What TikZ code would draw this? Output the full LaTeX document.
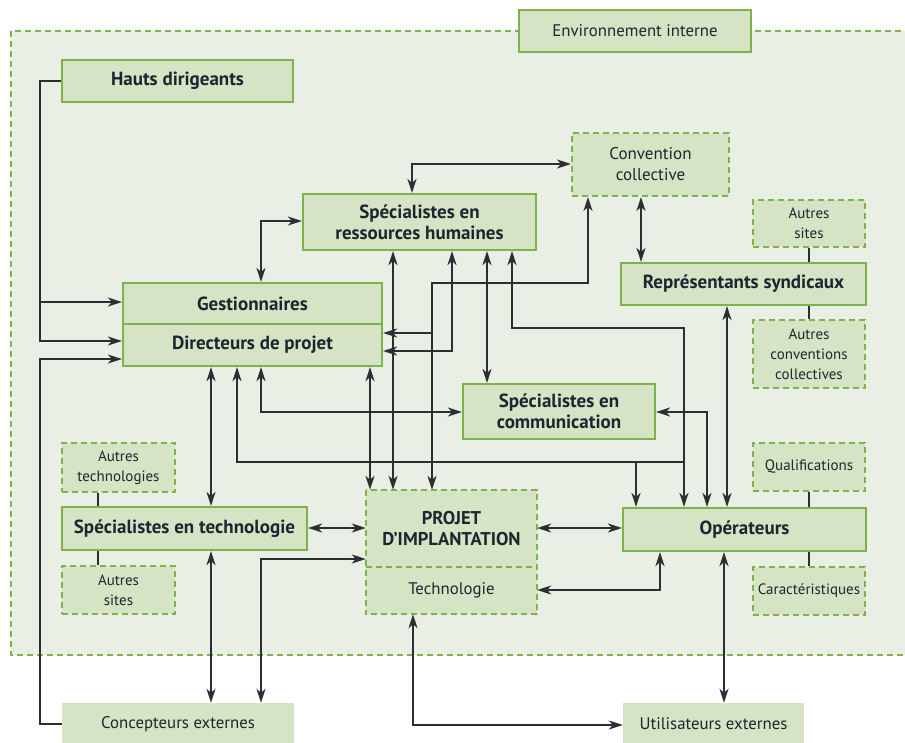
\documentclass[tikz,border=0pt]{standalone}
\usepackage{fontspec}
\setmainfont{PT Sans}
\usetikzlibrary{arrows.meta}
\definecolor{envfill}{HTML}{E9EFE5}
\definecolor{boxfill}{HTML}{D7E3C5}
\definecolor{boxline}{HTML}{7EB24A}
\definecolor{txt}{HTML}{1E2530}
\definecolor{conncol}{HTML}{2B2E33}
\tikzset{
  solidbox/.style={draw=boxline, line width=2.2pt, fill=boxfill, inner sep=0pt, text=txt, align=center, font=\fontsize{19}{21}\selectfont\bfseries},
  dashbox/.style={draw=boxline, line width=2pt, dash pattern=on 6pt off 4pt, fill=boxfill, inner sep=0pt, text=txt, align=center, font=\fontsize{15}{20}\selectfont},
  plainbox/.style={fill=boxfill, inner sep=0pt, text=txt, align=center, font=\fontsize{16.8}{21}\selectfont},
  conn/.style={draw=conncol, line width=1.8pt},
  tipboth/.style={conn, {Stealth[length=14pt,width=9pt,inset=4pt]}-{Stealth[length=14pt,width=9pt,inset=4pt]}},
  tipend/.style={conn, -{Stealth[length=14pt,width=9pt,inset=4pt]}},
  tipstart/.style={conn, {Stealth[length=14pt,width=9pt,inset=4pt]}-},
  tie/.style={conn}
}
\newcommand{\bx}[6]{\node[#1, minimum width=#4-#2, minimum height=#5-#3] (#6) at ({(#2+#4)/2},{(#3+#5)/2})}
\begin{document}
\begin{tikzpicture}[x=1pt,y=-1pt]
\useasboundingbox (0,0) rectangle (905,742);
% environment
\fill[envfill] (11,31) rectangle (907,655);
\draw[boxline, line width=2pt, dash pattern=on 6pt off 4pt] (11,31) rectangle (907,655);
\bx{solidbox,font=\fontsize{16.8}{21}\selectfont}{519}{10}{751}{52}{env} {Environnement interne};
\bx{plainbox}{62}{703}{294}{745}{conc} {Concepteurs externes};
\bx{plainbox}{623}{703}{804}{745}{util} {Utilisateurs externes};
% boxes
\bx{solidbox}{62}{60}{293}{102}{hd} {Hauts dirigeants};
\bx{solidbox}{303}{194}{536}{250}{srh} {Spécialistes en\\ressources humaines};
\bx{solidbox}{123}{283}{382}{324}{gest} {Gestionnaires};
\bx{solidbox}{123}{324}{382}{366}{dir} {Directeurs de projet};
\bx{dashbox,font=\fontsize{17}{21}\selectfont}{572}{133}{729}{196}{conv} {Convention\\collective};
\bx{dashbox}{753}{200}{865}{247}{asites} {Autres\\sites};
\bx{solidbox}{621}{263}{866}{305}{rep} {Représentants syndicaux};
\bx{dashbox}{753}{320}{865}{388}{aconv} {Autres\\conventions\\collectives};
\bx{solidbox}{463}{384}{655}{439}{comm} {Spécialistes en\\communication};
\bx{dashbox}{753}{443}{865}{491}{qual} {Qualifications};
\bx{dashbox}{62}{443}{175}{492}{atech} {Autres\\technologies};
\bx{solidbox}{62}{507}{307}{550}{stech} {Spécialistes en technologie};
\bx{dashbox}{62}{566}{175}{614}{asites2} {Autres\\sites};
\bx{solidbox}{623}{508}{866}{551}{op} {Opérateurs};
\bx{dashbox}{753}{567}{865}{615}{carac} {Caractéristiques};
% projet
\bx{plainbox,font=\fontsize{18.5}{21}\selectfont\bfseries}{366}{490}{537}{567}{proj} {PROJET\\D’IMPLANTATION};
\bx{plainbox}{366}{567}{537}{614}{tech} {Technologie};
\draw[boxline, line width=2pt, dash pattern=on 6pt off 4pt] (proj.north west) rectangle (tech.south east);
\draw[boxline, line width=2pt, dash pattern=on 6pt off 4pt] (proj.south west) -- (proj.south east);
% ties
\draw[tie] (asites) -- (rep.north -| asites);
\draw[tie] (aconv) -- (rep.south -| aconv);
\draw[tie] (qual) -- (op.north -| qual);
\draw[tie] (carac) -- (op.south -| carac);
\draw[tie] (atech.south -| 98,0) -- (stech.north -| 98,0);
\draw[tie] (asites2.north -| 98,0) -- (stech.south -| 98,0);
% Hauts dirigeants
\draw[tipend] (hd.west) -| (40,341) -- (dir.west |- 0,341);
\draw[tipend] (40,302) -- (gest.west |- 0,302);
% Concepteurs
\draw[tipend] (conc.west) -| (40,359) -- (dir.west |- 0,359);
\draw[tipboth] (conc.north -| 211,0) -- (stech.south -| 211,0);
\draw[tipboth] (conc.north -| 261,0) |- (proj.west |- 0,559);
% SRH
\draw[tipboth] (srh.north -| 412,0) |- (conv.west |- 0,164);
\draw[tipboth] (srh.west |- 0,221) -| (gest.north -| 261,0);
\draw[tipboth] (srh.south -| 393,0) -- (proj.north -| 393,0);
\draw[tipboth] (srh.south -| 452,0) |- (dir.east |- 0,351);
\draw[tipboth] (srh.south -| 487,0) -- (comm.north -| 487,0);
\draw[tipboth] (srh.south -| 512,0) |- (684,328) -- (op.north -| 684,0);
% Convention
\draw[tipboth] (conv.south -| 588,0) |- (432,283) -- (proj.north -| 432,0);
\draw[tipend] (432,333) -- (dir.east |- 0,333);
\draw[tipboth] (conv.south -| 641,0) -- (rep.north -| 641,0);
% Directeurs
\draw[tipboth] (dir.south -| 211,0) -- (stech.north -| 211,0);
\draw[tipstart] (dir.south -| 237,0) |- (684,462);
\draw[tipend] (636,462) -- (op.north -| 636,0);
\draw[tipboth] (dir.south -| 261,0) |- (comm.west |- 0,412);
\draw[tipboth] (dir.south -| 370,0) -- (proj.north -| 370,0);
% Communication
\draw[tipboth] (comm.east |- 0,412) -| (op.north -| 707,0);
% Representants
\draw[tipboth] (rep.south -| 727,0) -- (op.north -| 727,0);
% Technologie
\draw[tipboth] (stech.east |- 0,528) -- (proj.west |- 0,528);
\draw[tipboth] (proj.east |- 0,528) -- (op.west |- 0,528);
\draw[tipboth] (tech.east |- 0,590) -| (op.south -| 660,0);
\draw[tipboth] (tech.south -| 413,0) |- (util.west |- 0,725);
\draw[tipboth] (op.south -| 724,0) -- (util.north -| 724,0);
\end{tikzpicture}
\end{document}
